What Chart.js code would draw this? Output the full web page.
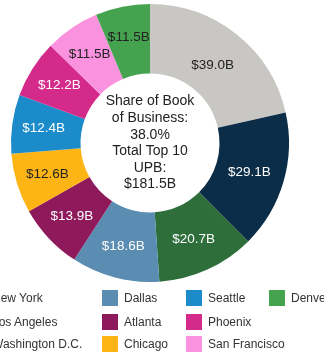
<!DOCTYPE html>
<html>
<head>
<meta charset="utf-8">
<script src="https://cdn.jsdelivr.net/npm/chart.js@4/dist/chart.umd.min.js"></script>
<style>
  html, body { margin:0; padding:0; background:#fff; }
  body { width:324px; height:356px; position:relative; overflow:hidden; font-family:"Liberation Sans", Arial, sans-serif; }
  #wrap { position:absolute; left:0; top:4px; width:300px; height:278px; }
  #legend { position:absolute; top:0; left:0; width:324px; height:356px; pointer-events:none; }
  .item { position:absolute; height:16px; line-height:16px; font-size:12px; color:#333; white-space:nowrap; }
  .sw { position:absolute; top:0; width:16px; height:16px; }
  .lbl { position:absolute; top:0; }
</style>
</head>
<body>
<div id="wrap"><canvas id="donut"></canvas></div>
<div id="legend"></div>
<script>
// Top 10 metros por UPB (miles de millones)
const cities = ['New York','Los Angeles','Washington D.C.','Dallas','Atlanta','Chicago','Seattle','Phoenix','San Francisco','Denver'];
const upb = [39.0, 29.1, 20.7, 18.6, 13.9, 12.6, 12.4, 12.2, 11.5, 11.5];
const colors = ['#c9c7c4','#0c2d48','#2e6e3a','#5b8db3','#8e1a5c','#fdb515','#1b8bc9','#d42a8a','#fb92e0','#45a34f'];
const labelColors = ['#222','#fff','#fff','#fff','#fff','#222','#fff','#fff','#222','#222'];
const centerLines = ['Share of Book','of Business:','38.0%','Total Top 10','UPB:','$181.5B'];

// leyenda en columnas (orden por columnas, 3 filas)
const legendCols = [-30, 102, 186, 269];
const legendRows = [290, 314, 336];

const fmt = v => '$' + v.toFixed(1) + 'B';

// centroide del sector anular
function centroid(arc){
  const R = arc.outerRadius, r = arc.innerRadius;
  const half = (arc.endAngle - arc.startAngle) / 2;
  const mid = arc.startAngle + half;
  const rc = (2/3) * (R*R*R - r*r*r) / (R*R - r*r) * Math.sin(half) / half;
  return { x: arc.x + rc * Math.cos(mid), y: arc.y + rc * Math.sin(mid) };
}

const sliceLabels = {
  id: 'sliceLabels',
  afterDatasetsDraw(chart){
    const ctx = chart.ctx;
    const meta = chart.getDatasetMeta(0);
    ctx.save();
    ctx.font = '13.5px "Liberation Sans", Arial, sans-serif';
    ctx.textAlign = 'center';
    ctx.textBaseline = 'middle';
    meta.data.forEach((arc, i) => {
      const p = centroid(arc);
      ctx.fillStyle = labelColors[i];
      ctx.fillText(fmt(upb[i]), p.x, p.y);
    });
    ctx.restore();
  }
};

const centerText = {
  id: 'centerText',
  afterDraw(chart){
    const ctx = chart.ctx;
    const arc = chart.getDatasetMeta(0).data[0];
    ctx.save();
    ctx.font = '14px "Liberation Sans", Arial, sans-serif';
    ctx.fillStyle = '#222';
    ctx.textAlign = 'center';
    ctx.textBaseline = 'middle';
    const lh = 16.6;
    const y0 = arc.y - lh * (centerLines.length - 1) / 2;
    centerLines.forEach((t, i) => ctx.fillText(t, arc.x, y0 + i * lh));
    ctx.restore();
  }
};

new Chart(document.getElementById('donut').getContext('2d'), {
  type: 'doughnut',
  data: {
    labels: cities,
    datasets: [{ data: upb, backgroundColor: colors, borderWidth: 0 }]
  },
  options: {
    responsive: true,
    maintainAspectRatio: false,
    animation: false,
    cutout: '50%',
    layout: { padding: 0 },
    plugins: { legend: { display: false }, tooltip: { enabled: false } }
  },
  plugins: [sliceLabels, centerText]
});

const legend = document.getElementById('legend');
cities.forEach((c, i) => {
  const col = Math.floor(i / 3), row = i % 3;
  const el = document.createElement('div');
  el.className = 'item';
  el.style.left = legendCols[col] + 'px';
  el.style.top = legendRows[row] + 'px';
  el.innerHTML = '<span class="sw" style="left:0;background:' + colors[i] + '"></span><span class="lbl" style="left:22px">' + c + '</span>';
  legend.appendChild(el);
});
</script>
</body>
</html>
